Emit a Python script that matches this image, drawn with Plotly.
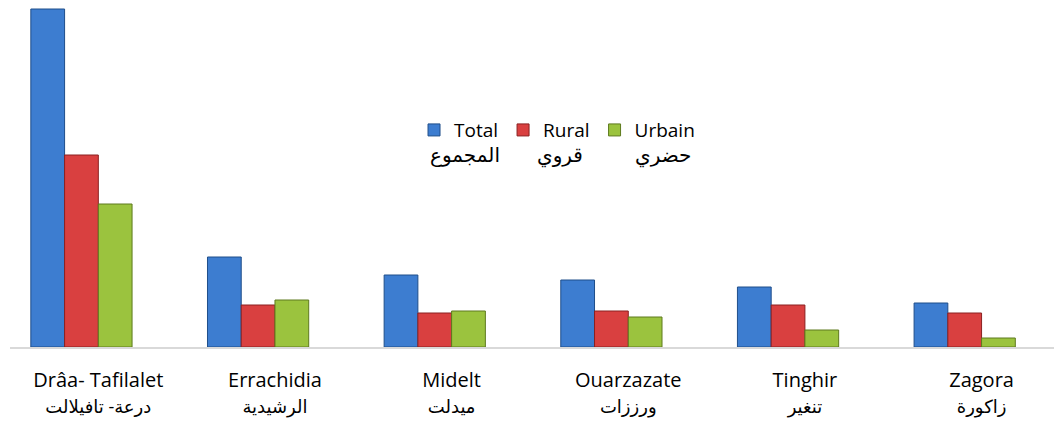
import plotly.graph_objects as go

cat_fr = ["Drâa- Tafilalet", "Errachidia", "Midelt", "Ouarzazate", "Tinghir", "Zagora"]
cat_ar = ["درعة- تافيلالت", "الرشيدية", "ميدلت", "ورززات", "تنغير", "زاكورة"]
series_names = ["Total", "Rural", "Urbain"]
series_names_ar = ["المجموع", "قروي", "حضري"]
total = [338, 90, 72, 67, 60, 44]
rural = [192, 42, 34, 36, 42, 34]
urbain = [143, 47, 36, 30, 17, 9]
empty = [None] * 6

colors = ["#3D7DD0", "#D94040", "#9BC33E"]
outlines = ["#1F4E8A", "#8B2020", "#5E7A1E"]

ticktext = [f"{f}<br><span style='font-size:18px'>{a}</span>" for f, a in zip(cat_fr, cat_ar)]

fig = go.Figure()
for name, vals, c, o in zip(series_names, [total, rural, urbain], colors, outlines):
    fig.add_trace(go.Bar(x=list(range(6)), y=vals, name=name,
                         marker=dict(color=c, line=dict(color=o, width=1))))
fig.add_trace(go.Bar(x=list(range(6)), y=empty, name="", showlegend=False,
                     marker=dict(color="rgba(0,0,0,0)")))

fig.update_layout(
    width=1054, height=422,
    margin=dict(l=10, r=0, t=7, b=75),
    paper_bgcolor="white", plot_bgcolor="white",
    barmode="group", bargap=0.236, bargroupgap=0,
    font=dict(family="Open Sans, DejaVu Sans", size=20, color="#000000"),
    showlegend=True,
    legend=dict(orientation="h", x=0.387, y=0.638, xanchor="left", yanchor="middle",
                font=dict(size=19), itemwidth=30, traceorder="normal",
                bgcolor="rgba(0,0,0,0)"),
    xaxis=dict(range=[-0.5, 5.41], tickmode="array", tickvals=list(range(6)),
               ticktext=ticktext, showgrid=False, zeroline=False,
               showline=True, linecolor="#D9D9D9", linewidth=2, ticks="",
               ticklabelstandoff=14, tickfont=dict(size=20)),
    yaxis=dict(range=[0, 340], visible=False, showgrid=False),
)

ar_x = [0.436, 0.527, 0.625]
for t, xx in zip(series_names_ar, ar_x):
    fig.add_annotation(text=t, x=xx, y=0.565, xref="paper", yref="paper",
                       showarrow=False, xanchor="center", yanchor="middle",
                       font=dict(size=20))

fig.write_html("out.html", config={"displayModeBar": False},
               post_script="document.body.style.margin='0px';")
